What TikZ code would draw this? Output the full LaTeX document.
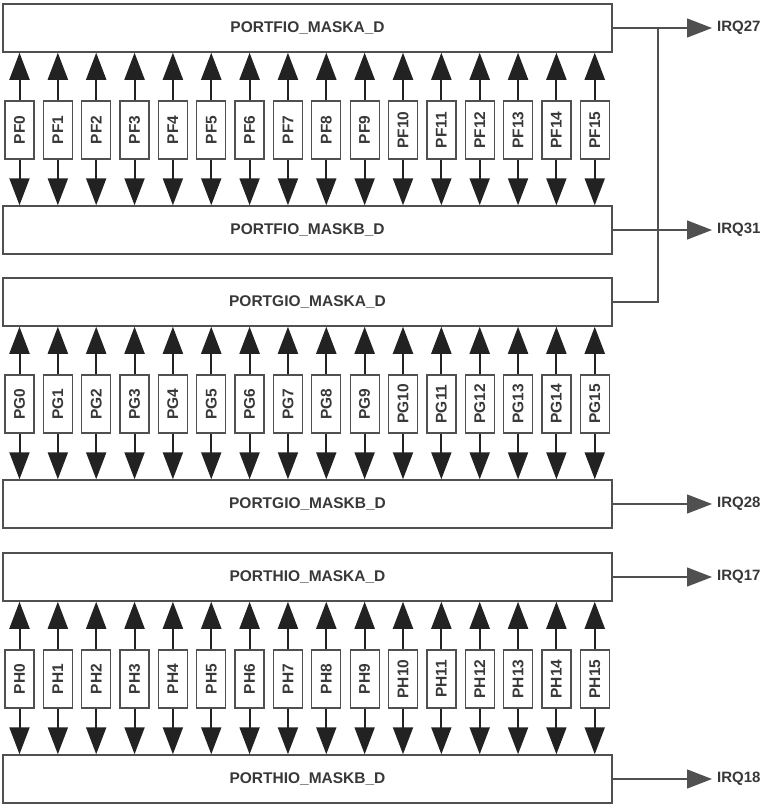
\documentclass[tikz,border=0pt]{standalone}
\usepackage{fontspec}
\setmainfont{Liberation Sans}
\usepackage{graphicx}
\usetikzlibrary{arrows.meta, calc}
\definecolor{pgray}{HTML}{505050}
\definecolor{ptext}{HTML}{383838}
\definecolor{parrow}{HTML}{222222}

\begin{document}
\begin{tikzpicture}[
  x=1pt, y=-1pt,
  every node/.style={font=\fontsize{15}{17}\selectfont\bfseries, text=ptext},
  maskbox/.style={rectangle, draw=pgray, line width=1.5pt, minimum width=609pt, minimum height=48pt, inner sep=0pt, font=\fontsize{15.5}{17}\selectfont\bfseries},
  pinbox/.style={rectangle, draw=pgray, line width=1.3pt, minimum width=29pt, minimum height=58pt, inner sep=0pt, font=\fontsize{15.5}{17}\selectfont\bfseries},
  pin/.style={-{Triangle[length=27pt, width=20pt]}, line width=2pt, color=parrow},
  irq/.style={-{Triangle[length=25pt, width=19pt]}, line width=1.3pt, color=pgray},
  irqlabel/.style={anchor=west, inner xsep=5pt, inner ysep=0pt},
  wire/.style={line width=1.3pt, color=pgray},
]
\useasboundingbox (0,0) rectangle (764,806);

% port banks F, G, H
\foreach \g/\t in {F/4, G/278, H/553} {
  \node[maskbox] (\g a) at (307.5, \t+24) {PORT\g IO\_MASKA\_D};
  \node[maskbox] (\g b) at (307.5, \t+226) {PORT\g IO\_MASKB\_D};
  \foreach \i in {0,...,15} {
    \node[pinbox] (\g\i) at (19.5+38.35*\i, \t+126) {\rotatebox{90}{P\g\i}};
    \draw[pin] (\g\i.north) -- (\g\i.north |- \g a.south);
    \draw[pin] (\g\i.south) -- (\g\i.south |- \g b.north);
  }
}

% interrupt outputs
\node[irqlabel] (irq27) at (712, 28) {IRQ27};
\node[irqlabel] (irq31) at (712, 230) {IRQ31};
\node[irqlabel] (irq28) at (712, 504) {IRQ28};
\node[irqlabel] (irq17) at (712, 577) {IRQ17};
\node[irqlabel] (irq18) at (712, 779) {IRQ18};

\draw[irq] (Fa.east) -- (irq27.west);
\draw[irq] (Fb.east) -- (irq31.west);
\draw[irq] (Gb.east) -- (irq28.west);
\draw[irq] (Ha.east) -- (irq17.west);
\draw[irq] (Hb.east) -- (irq18.west);

\coordinate (jn) at (658, 28);
\draw[wire] (Ga.east) -| (jn);
\end{tikzpicture}
\end{document}
